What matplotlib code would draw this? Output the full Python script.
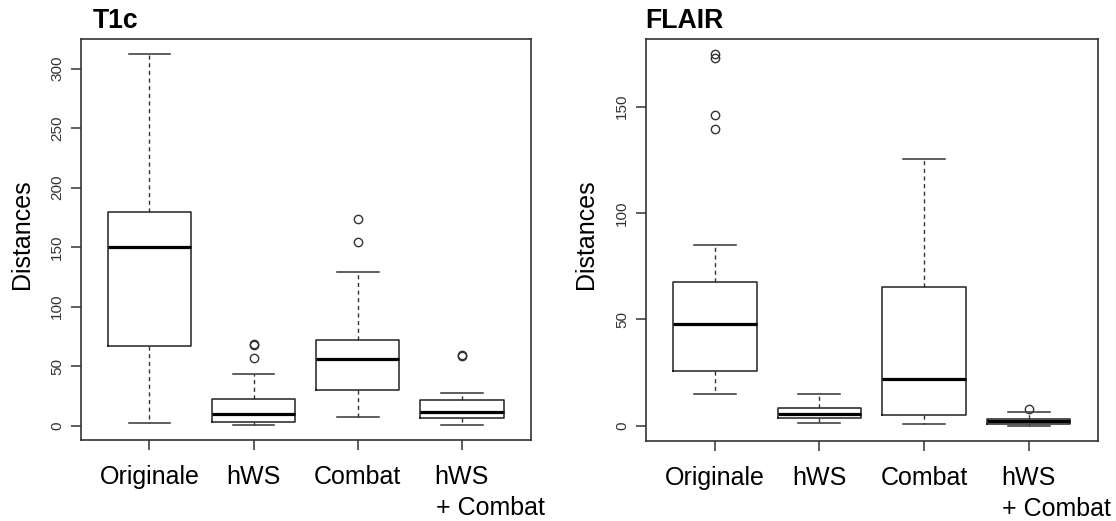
import matplotlib.pyplot as plt

plt.rcParams['font.family'] = ['Liberation Sans', 'DejaVu Sans']

# Groupes (axe x)
groupes = ['Originale', 'hWS', 'Combat', 'hWS']
ligne2 = '+ Combat'  # deuxième ligne du 4e libellé

# T1c : moustache basse, Q1, médiane, Q3, moustache haute, valeurs aberrantes
t1c_whislo = [2.0, 0.8, 7.5, 0.8]
t1c_q1 = [67.3, 3.4, 29.9, 6.7]
t1c_med = [150.0, 9.8, 56.1, 11.7]
t1c_q3 = [179.6, 22.9, 72.0, 22.1]
t1c_whishi = [312.1, 43.3, 129.3, 27.6]
t1c_outliers = [[], [56.7, 67.6, 68.6], [154.4, 173.7], [58.6, 59.4]]
t1c_yticks = [0, 50, 100, 150, 200, 250, 300]

# FLAIR
flair_whislo = [14.8, 1.2, 0.7, 0.0]
flair_q1 = [25.6, 3.8, 4.9, 1.0]
flair_med = [47.7, 5.7, 22.2, 2.3]
flair_q3 = [67.5, 8.2, 65.4, 3.4]
flair_whishi = [84.9, 14.8, 125.6, 6.7]
flair_outliers = [[139.4, 146.2, 172.9, 174.7], [], [], [7.7]]
flair_yticks = [0, 50, 100, 150]

panneaux = [
    ('T1c', t1c_whislo, t1c_q1, t1c_med, t1c_q3, t1c_whishi, t1c_outliers, t1c_yticks,
     [0.0723, 0.156, 0.4032, 0.7686], 0.0827, 0.020),
    ('FLAIR', flair_whislo, flair_q1, flair_med, flair_q3, flair_whishi, flair_outliers, flair_yticks,
     [0.5786, 0.1541, 0.4050, 0.7705], 0.5786, 0.525),
]

fig = plt.figure(figsize=(11.16, 5.21), dpi=100)

for (titre, wlo, q1, med, q3, whi, outl, yt, pos, xtitre, xylab) in panneaux:
    ax = fig.add_axes(pos)
    stats = []
    for i in range(4):
        stats.append({'whislo': wlo[i], 'q1': q1[i], 'med': med[i], 'q3': q3[i],
                      'whishi': whi[i], 'fliers': outl[i], 'label': groupes[i]})
    ax.bxp(stats, positions=[1, 2, 3, 4], widths=0.8, capwidths=0.4,
           boxprops=dict(color='#222222', linewidth=1.1),
           medianprops=dict(color='black', linewidth=2.3),
           whiskerprops=dict(color='#333333', linewidth=1.0, linestyle=(0, (3, 2.5))),
           capprops=dict(color='#333333', linewidth=1.1),
           flierprops=dict(marker='o', markerfacecolor='none', markeredgecolor='#333333',
                           markersize=6, markeredgewidth=1.0))

    # limites à la manière de R (étendue + 4 %)
    tout = wlo + whi + [v for o in outl for v in o]
    lo, hi = min(tout), max(tout)
    ax.set_ylim(lo - 0.04 * (hi - lo), hi + 0.04 * (hi - lo))
    ax.set_xlim(0.34, 4.66)

    ax.set_yticks(yt)
    ax.set_yticklabels([str(v) for v in yt], rotation=90, va='center', fontsize=11, color='#333333')
    ax.tick_params(axis='y', direction='out', length=7, width=1.1, color='#333333', pad=5)
    ax.tick_params(axis='x', direction='out', length=7, width=1.1, color='#333333', pad=11,
                   labelsize=18)
    for sp in ax.spines.values():
        sp.set_color('#333333')
        sp.set_linewidth(1.2)

    ax.annotate(ligne2, xy=(4, 0), xycoords=('data', 'axes fraction'),
                xytext=(-19, -54), textcoords='offset points',
                ha='left', va='baseline', fontsize=18)

    fig.text(xtitre, 0.9457, titre, fontsize=19.2, fontweight='bold', ha='left', va='baseline')
    fig.text(xylab, 0.551, 'Distances', fontsize=18, rotation=90, ha='center', va='center')

fig.savefig('out.png', dpi=100)
